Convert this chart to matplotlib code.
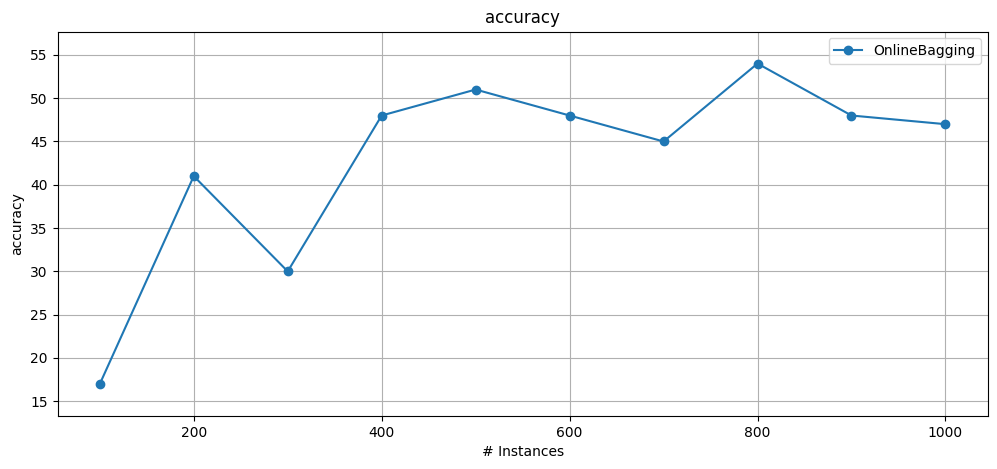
import matplotlib
matplotlib.use("Agg")
import matplotlib.pyplot as plt

instances = [100, 200, 300, 400, 500, 600, 700, 800, 900, 1000]
accuracy = [17, 41, 30, 48, 51, 48, 45, 54, 48, 47]

fig, ax = plt.subplots(figsize=(9.97, 4.69), dpi=100)
ax.plot(instances, accuracy, marker='o', label='OnlineBagging')
ax.margins(x=0.05, y=0.1)
ax.set_title("accuracy")
ax.set_xlabel("# Instances")
ax.set_ylabel("accuracy")
ax.grid(True)
ax.legend(loc='upper right')
fig.subplots_adjust(left=0.0577, right=0.9907, top=0.9328, bottom=0.113)
fig.savefig("out.png", dpi=100)
